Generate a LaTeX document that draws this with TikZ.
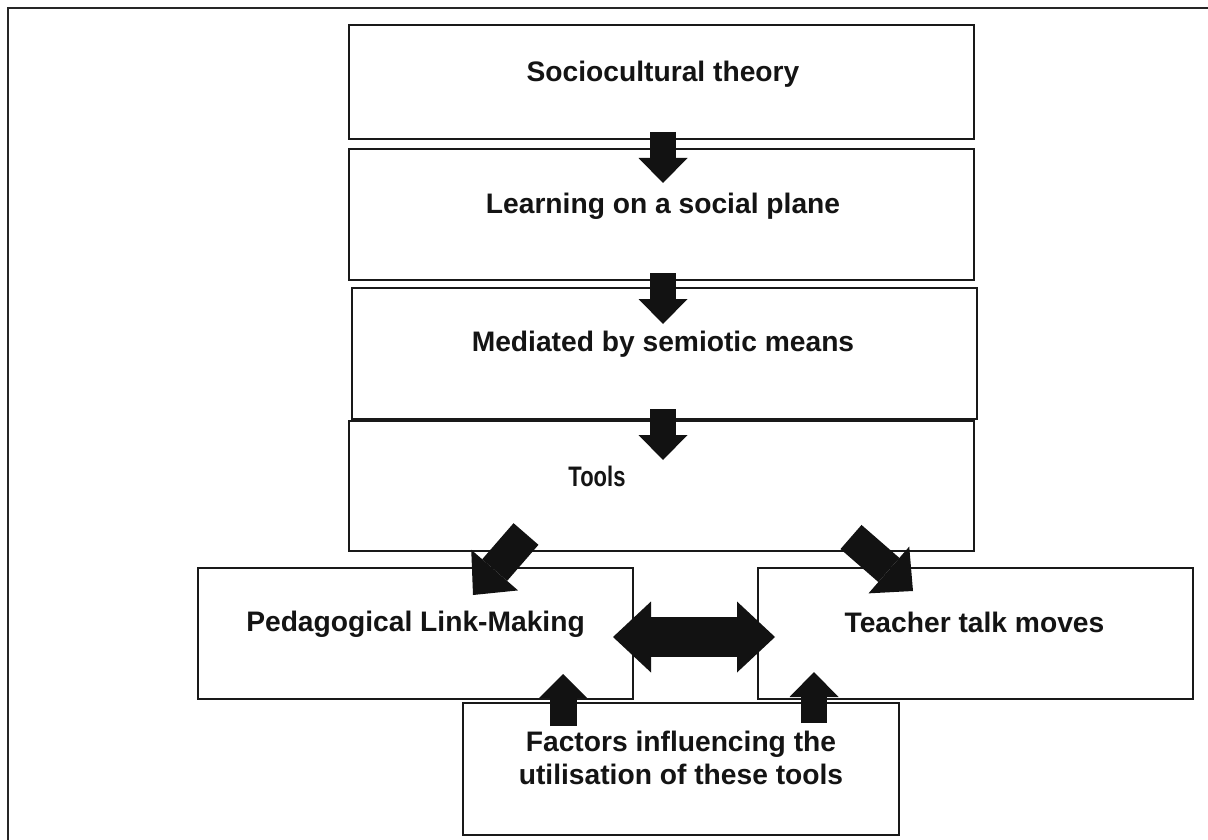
\documentclass[tikz,border=0pt]{standalone}
\usepackage{fontspec}
\setmainfont{Liberation Sans}
\usepackage{graphicx}
\usetikzlibrary{arrows.meta}
\begin{document}
\begin{tikzpicture}[x=1pt,y=-1pt,
  box/.style={draw=black!90, line width=1.6pt, rectangle, inner sep=0pt, outer sep=0pt},
  lbl/.style={anchor=base, inner sep=0pt, align=center, font=\fontsize{28.2}{33}\selectfont\bfseries, text=black!92},
  blockarrow/.style n args={3}{line width=#1, draw=black!93, -{Triangle[width=#2,length=#3,line width=0pt]}},
  dblarrow/.style n args={3}{line width=#1, draw=black!93, {Triangle[width=#2,length=#3,line width=0pt]}-{Triangle[width=#2,length=#3,line width=0pt]}},
]
\useasboundingbox (0,0) rectangle (1208,840);
\fill[white] (0,0) rectangle (1208,840);
% outer frame (cut by the page at right and bottom)
\draw[line width=1.8pt, black!85] (8,860) -- (8,8) -- (1230,8);

% boxes
\node[box, minimum width=625pt, minimum height=114pt] (b1) at (661.5,82) {};
\node[box, minimum width=625pt, minimum height=131pt] (b2) at (661.5,214.5) {};
\node[box, minimum width=625pt, minimum height=131pt] (b3) at (664.5,353.5) {};
\node[box, minimum width=625pt, minimum height=130pt] (b4) at (661.5,486) {};
\node[box, minimum width=435pt, minimum height=131pt] (b5) at (415.5,633.5) {};
\node[box, minimum width=435pt, minimum height=131pt] (b6) at (975.5,633.5) {};
\node[box, minimum width=436pt, minimum height=132pt] (b7) at (681,769) {};

% texts
\node[lbl] (t1) at (663,82) {Sociocultural theory};
\node[lbl] (t2) at (663,213) {Learning on a social plane};
\node[lbl] (t3) at (663,351) {Mediated by semiotic means};
\node[lbl] (t4) at (597,486) {\scalebox{0.78}[1]{Tools}};
\node[lbl] (t5) at (415.5,631) {Pedagogical Link-Making};
\node[lbl] (t6) at (974.5,632) {Teacher talk moves};
\node[lbl] (t7) at (681,784) {Factors influencing the\\utilisation of these tools};

% arrow end points
\coordinate (a1s) at (663,132); \coordinate (a1e) at (663,183);
\coordinate (a2s) at (663,273); \coordinate (a2e) at (663,324);
\coordinate (a3s) at (663,409); \coordinate (a3e) at (663,460);
\coordinate (dls) at (526,534); \coordinate (dle) at (473,595);
\coordinate (drs) at (851,537); \coordinate (dre) at (913,591);
\coordinate (hl) at (613,637); \coordinate (hr) at (775,637);
\coordinate (uls) at (563,726); \coordinate (ule) at (563,674);
\coordinate (urs) at (814,723); \coordinate (ure) at (814,672);

\draw[blockarrow={26pt}{49pt}{25pt}] (a1s) -- (a1e);
\draw[blockarrow={26pt}{49pt}{25pt}] (a2s) -- (a2e);
\draw[blockarrow={26pt}{49pt}{25pt}] (a3s) -- (a3e);
\draw[blockarrow={33pt}{62pt}{33pt}] (dls) -- (dle);
\draw[blockarrow={32pt}{62pt}{32pt}] (drs) -- (dre);
\draw[dblarrow={40pt}{71pt}{38pt}] (hl) -- (hr);
\draw[blockarrow={27pt}{48pt}{24pt}] (uls) -- (ule);
\draw[blockarrow={26pt}{49pt}{25pt}] (urs) -- (ure);
\end{tikzpicture}
\end{document}
